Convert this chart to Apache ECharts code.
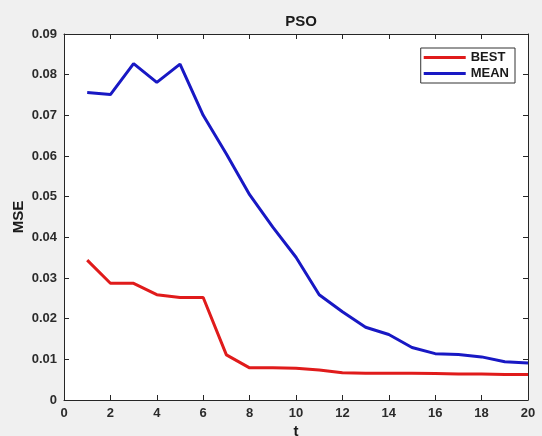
<!DOCTYPE html>
<html>
<head>
<meta charset="utf-8">
<script src="https://cdn.jsdelivr.net/npm/echarts@6/dist/echarts.min.js"></script>
<style>
  html, body { margin: 0; padding: 0; background: #f0f0f0; }
  #chart { width: 542px; height: 436px; }
</style>
</head>
<body>
<div id="chart"></div>
<script>
// iteration index
const iters = [1, 2, 3, 4, 5, 6, 7, 8, 9, 10, 11, 12, 13, 14, 15, 16, 17, 18, 19, 20]
// best and mean MSE per iteration
const bestMse = [0.0344, 0.0287, 0.0287, 0.0259, 0.0252, 0.0252, 0.0111, 0.0079, 0.0079, 0.0078,
  0.0074, 0.0067, 0.0066, 0.0066, 0.0066, 0.0065, 0.0064, 0.0064, 0.0063, 0.0063]
const meanMse = [0.0756, 0.0751, 0.0827, 0.0781, 0.0826, 0.0700, 0.0605, 0.0505, 0.0425, 0.0351,
  0.0259, 0.0217, 0.0179, 0.0161, 0.0129, 0.0114, 0.0112, 0.0106, 0.0094, 0.0091]
const xTicks = [0, 2, 4, 6, 8, 10, 12, 14, 16, 18, 20]
const yTicks = ['0', '0.01', '0.02', '0.03', '0.04', '0.05', '0.06', '0.07', '0.08', '0.09']

const chart = echarts.init(document.getElementById('chart'))

const font = 'Liberation Sans, Arial, sans-serif'
const axisCol = '#262626'
const textCol = '#2b2b2b'

// matlab-like box: axis line + inward ticks
const boxAxis = (extra) => Object.assign({
  type: 'value',
  axisLine: { show: true, onZero: false, lineStyle: { color: axisCol, width: 1 } },
  axisTick: { show: true, inside: true, length: 5, lineStyle: { color: axisCol } },
  splitLine: { show: false }
}, extra)

const option = {
  animation: false,
  backgroundColor: '#f0f0f0',
  textStyle: { fontFamily: font },
  title: {
    text: 'PSO',
    left: 296,
    textAlign: 'center',
    top: 9,
    textStyle: { fontSize: 15, fontWeight: 'bold', color: '#1a1a1a', fontFamily: font }
  },
  grid: {
    left: 64, right: 14, top: 34, bottom: 36,
    outerBoundsMode: 'none',
    containLabel: false,
    show: true, backgroundColor: '#ffffff', borderWidth: 0
  },
  legend: {
    data: ['BEST', 'MEAN'],
    orient: 'vertical',
    right: 27,
    top: 48,
    padding: [3, 6, 3, 3],
    itemGap: 3,
    itemWidth: 42,
    itemHeight: 3,
    icon: 'rect',
    backgroundColor: '#ffffff',
    borderColor: '#333333',
    borderWidth: 1,
    borderRadius: 0,
    textStyle: { fontSize: 13, fontWeight: 'bold', color: '#1a1a1a', fontFamily: font }
  },
  xAxis: [
    boxAxis({
      position: 'bottom', min: 0, max: 20, interval: 2,
      name: 't', nameLocation: 'middle', nameGap: 24, nameMoveOverlap: false,
      nameTextStyle: { fontSize: 15, fontWeight: 'bold', color: '#1a1a1a' },
      axisLabel: {
        show: true, margin: 7, fontSize: 13, fontWeight: 'bold', color: textCol,
        formatter: (v) => xTicks.includes(v) ? String(v) : ''
      }
    }),
    boxAxis({ position: 'top', min: 0, max: 20, interval: 2, axisLabel: { show: false } })
  ],
  yAxis: [
    boxAxis({
      position: 'left', min: 0, max: 0.09, interval: 0.01,
      name: 'MSE', nameLocation: 'middle', nameGap: 38, nameMoveOverlap: false,
      nameTextStyle: { fontSize: 15, fontWeight: 'bold', color: '#1a1a1a' },
      axisLabel: {
        show: true, margin: 7, fontSize: 13, fontWeight: 'bold', color: textCol,
        formatter: (v) => yTicks[Math.round(v * 100)]
      }
    }),
    boxAxis({ position: 'right', min: 0, max: 0.09, interval: 0.01, axisLabel: { show: false } })
  ],
  series: [
    {
      name: 'BEST',
      type: 'line',
      data: iters.map((t, i) => [t, bestMse[i]]),
      symbol: 'none',
      lineStyle: { width: 3, color: '#e01b1b' },
      itemStyle: { color: '#e01b1b' }
    },
    {
      name: 'MEAN',
      type: 'line',
      data: iters.map((t, i) => [t, meanMse[i]]),
      symbol: 'none',
      lineStyle: { width: 3, color: '#1818c4' },
      itemStyle: { color: '#1818c4' }
    }
  ]
}

chart.setOption(option)
</script>
</body>
</html>
